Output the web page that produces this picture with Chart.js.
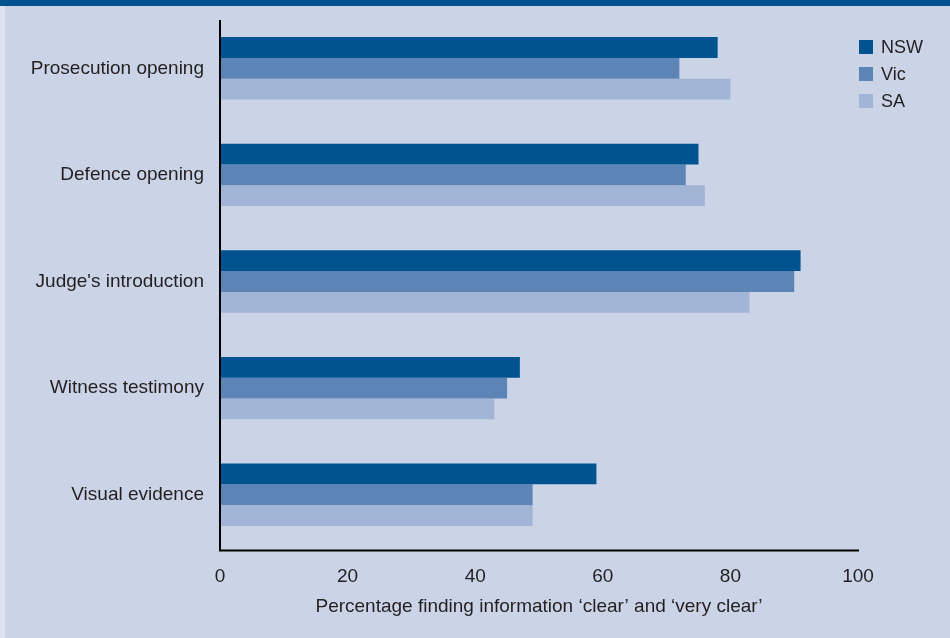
<!DOCTYPE html>
<html>
<head>
<meta charset="utf-8">
<script src="https://cdn.jsdelivr.net/npm/chart.js@4/dist/chart.umd.min.js"></script>
<style>
  html, body { margin: 0; padding: 0; }
  body { width: 950px; height: 638px; background: #cbd4e7; position: relative; overflow: hidden; }
  #top-strip { position: absolute; left: 0; top: 0; width: 950px; height: 6px; background: #00538f; }
  #left-strip { position: absolute; left: 0; top: 6px; width: 5px; height: 632px; background: #dde2ee; }
  #wrap { position: absolute; left: 0; top: 0; width: 950px; height: 638px; }
</style>
</head>
<body>
<div id="wrap"><canvas id="chart"></canvas></div>
<div id="top-strip"></div>
<div id="left-strip"></div>
<script>
// categories + series
const categories = ['Prosecution opening', 'Defence opening', "Judge's introduction", 'Witness testimony', 'Visual evidence'];
const nswValues = [78, 75, 91, 47, 59];
const vicValues = [72, 73, 90, 45, 49];
const saValues = [80, 76, 83, 43, 49];
const xTicks = [0, 20, 40, 60, 80, 100];
const seriesNames = ['NSW', 'Vic', 'SA'];
const seriesColors = ['#00538f', '#5c84b6', '#a3b5d7'];

const textColor = '#231f20';
const fontFamily = '"Liberation Sans", Arial, Helvetica, sans-serif';

// draws the two axis lines and the legend in the top right corner
const decorations = {
    id: 'decorations',
    afterDatasetsDraw(chart) {
        const ctx = chart.ctx;
        const area = chart.chartArea;
        ctx.save();
        ctx.strokeStyle = '#000';
        ctx.lineWidth = 2;
        ctx.beginPath();
        ctx.moveTo(area.left, area.top + 5);
        ctx.lineTo(area.left, area.bottom + 2.5);
        ctx.lineTo(area.right + 1, area.bottom + 2.5);
        ctx.stroke();

        // legend
        ctx.font = '18px ' + fontFamily;
        ctx.textBaseline = 'middle';
        chart.data.datasets.forEach((ds, i) => {
            const y = 47 + i * 27;
            ctx.fillStyle = ds.backgroundColor;
            ctx.fillRect(859, y - 7, 14, 14);
            ctx.fillStyle = textColor;
            ctx.fillText(ds.label, 881, y + 1);
        });
        ctx.restore();
    }
};

new Chart(document.getElementById('chart'), {
    type: 'bar',
    data: {
        labels: categories,
        datasets: [
            { label: seriesNames[0], data: nswValues, backgroundColor: seriesColors[0] },
            { label: seriesNames[1], data: vicValues, backgroundColor: seriesColors[1] },
            { label: seriesNames[2], data: saValues, backgroundColor: seriesColors[2] }
        ]
    },
    options: {
        indexAxis: 'y',
        responsive: true,
        maintainAspectRatio: false,
        animation: false,
        events: [],
        datasets: {
            bar: { barPercentage: 1, categoryPercentage: 0.585, borderWidth: 0 }
        },
        layout: { padding: { top: 15, right: 92, left: 0, bottom: 0 } },
        plugins: {
            legend: { display: false },
            tooltip: { enabled: false }
        },
        scales: {
            x: {
                min: 0,
                max: 100,
                afterBuildTicks: (scale) => { scale.ticks = xTicks.map(v => ({ value: v })); },
                afterFit: (scale) => {
                    scale.height = 90;
                    scale.paddingLeft = 0;
                    scale.paddingRight = 0;
                },
                grid: { display: false, drawTicks: false },
                border: { display: false },
                ticks: {
                    padding: 17,
                    color: textColor,
                    font: { family: fontFamily, size: 19 },
                    maxRotation: 0
                },
                title: {
                    display: true,
                    text: 'Percentage finding information \u2018clear\u2019 and \u2018very clear\u2019',
                    color: textColor,
                    font: { family: fontFamily, size: 19 },
                    padding: { top: 0, bottom: 20 }
                }
            },
            y: {
                afterFit: (scale) => {
                    scale.width = 220;
                    scale.paddingTop = 0;
                    scale.paddingBottom = 0;
                },
                grid: { display: false, drawTicks: false },
                border: { display: false },
                ticks: {
                    padding: 16,
                    color: textColor,
                    font: { family: fontFamily, size: 19 }
                }
            }
        }
    },
    plugins: [decorations]
});
</script>
</body>
</html>
